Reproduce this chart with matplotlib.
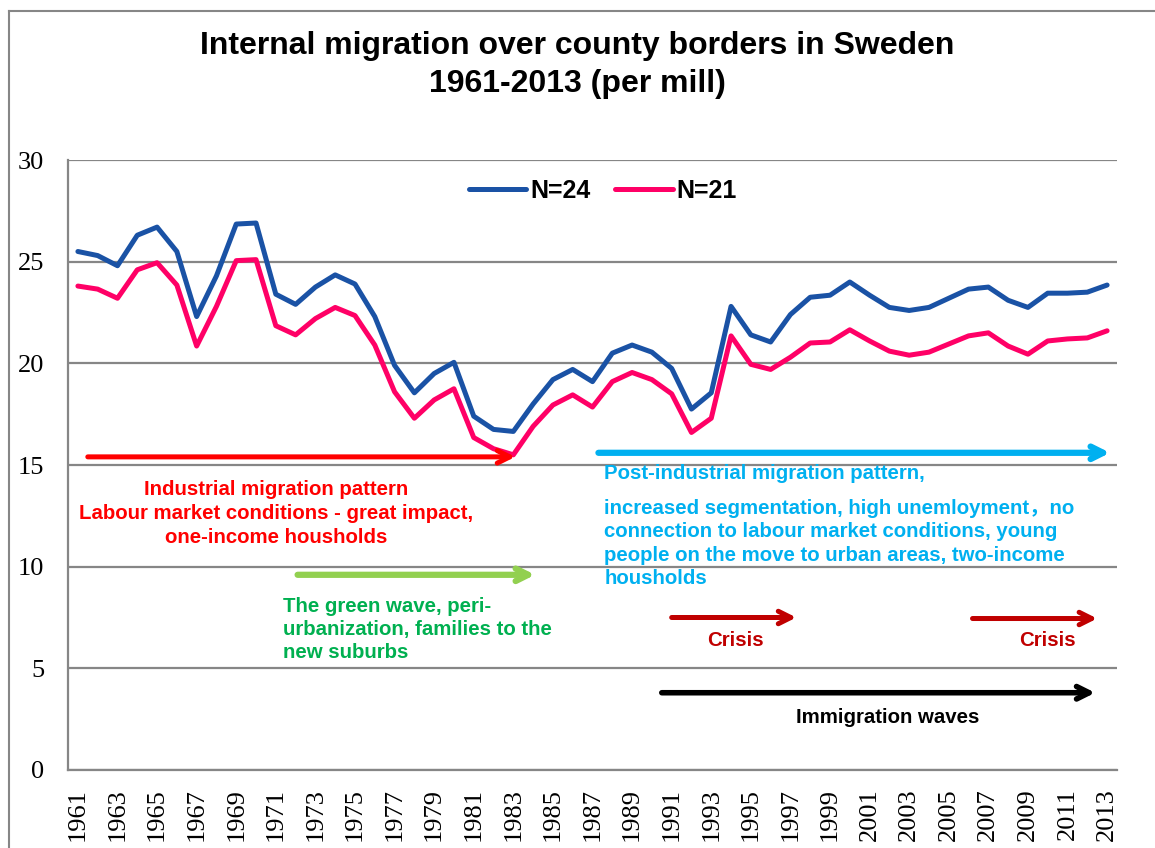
import matplotlib.pyplot as plt
from matplotlib.lines import Line2D
import numpy as np

years = list(range(1961, 2014))
n24 = [25.5, 25.3, 24.8, 26.3, 26.7, 25.5, 22.3, 24.3, 26.85, 26.9,
       23.4, 22.9, 23.75, 24.35, 23.9, 22.3, 19.9, 18.55, 19.5, 20.05,
       17.4, 16.75, 16.65, 18.0, 19.2, 19.7, 19.1, 20.5, 20.9, 20.55,
       19.75, 17.75, 18.55, 22.8, 21.4, 21.05, 22.4, 23.25, 23.35, 24.0,
       23.35, 22.75, 22.6, 22.75, 23.2, 23.65, 23.75, 23.1, 22.75, 23.45,
       23.45, 23.5, 23.85]
n21 = [23.8, 23.65, 23.2, 24.6, 24.95, 23.85, 20.85, 22.8, 25.05, 25.1,
       21.85, 21.4, 22.2, 22.75, 22.35, 20.9, 18.6, 17.3, 18.2, 18.75,
       16.35, 15.8, 15.5, 16.9, 17.95, 18.45, 17.85, 19.1, 19.55, 19.2,
       18.5, 16.6, 17.3, 21.35, 19.95, 19.7, 20.3, 21.0, 21.05, 21.65,
       21.1, 20.6, 20.4, 20.55, 20.95, 21.35, 21.5, 20.85, 20.45, 21.1,
       21.2, 21.25, 21.6]
year_labels = [str(y) if (y - 1961) % 2 == 0 else "" for y in years]

sans = ['Liberation Sans', 'Noto Sans CJK SC', 'DejaVu Sans']

fig = plt.figure(figsize=(11.55, 8.48), dpi=100)
ax = fig.add_axes([68/1155, 1-770/848, (1117-68)/1155, (770-160)/848])

x = np.arange(len(years))
ax.plot(x, n24, color='#1A52A5', lw=3.6, label='N=24', solid_capstyle='round')
ax.plot(x, n21, color='#FF0066', lw=3.6, label='N=21', solid_capstyle='round')

ax.set_xlim(-0.5, len(years) - 0.5)
ax.set_ylim(0, 30)
ax.set_yticks(range(0, 31, 5))
ax.yaxis.grid(True, color='#868686', lw=1.6)
ax.set_axisbelow(True)
ax.set_xticks(x)
ax.set_xticklabels(year_labels, rotation=90, family='Liberation Serif', fontsize=19)
for lbl in ax.get_yticklabels():
    lbl.set_family('Liberation Serif')
    lbl.set_fontsize(19)
ax.tick_params(length=0)
ax.tick_params(axis='y', pad=17)
ax.tick_params(axis='x', pad=13)
for s in ['top', 'right']:
    ax.spines[s].set_visible(False)
for s in ['left', 'bottom']:
    ax.spines[s].set_color('#868686')
    ax.spines[s].set_linewidth(1.6)

leg = ax.legend(loc='center', bbox_to_anchor=(603/1155, 1-191/848), bbox_transform=fig.transFigure,
                ncol=2, frameon=False, handlelength=2.3, columnspacing=1.0, handletextpad=0.15,
                prop={'family': sans, 'weight': 'bold', 'size': 18})

fig.text(0.5, 1-46/848, "Internal migration over county borders in Sweden",
         ha='center', va='center', fontsize=23, fontweight='bold', family=sans)
fig.text(0.5, 1-84/848, "1961-2013 (per mill)",
         ha='center', va='center', fontsize=23, fontweight='bold', family=sans)

# outer chart frame
fig.add_artist(Line2D([9/1155, 9/1155], [0, 1-11/848], color='#868686', lw=1.5))
fig.add_artist(Line2D([9/1155, 1], [1-11/848, 1-11/848], color='#868686', lw=1.5))


def arrow(x0, x1, y, color, lw):
    ax.annotate('', xy=(x1, y), xytext=(x0, y),
                arrowprops=dict(arrowstyle='->,head_length=0.9,head_width=0.45',
                                color=color, lw=lw, shrinkA=0, shrinkB=0))


arrow(0.5, 22.1, 15.4, '#FF0000', 3.6)
arrow(11.1, 23.1, 9.6, '#92D050', 4.5)
arrow(26.3, 52.15, 15.6, '#00B0F0', 4.5)
arrow(30.0, 36.3, 7.5, '#C00000', 3.6)
arrow(45.2, 51.5, 7.45, '#C00000', 3.6)
arrow(29.5, 51.4, 3.8, '#000000', 4.0)

fs = 14.7
ax.text(10.0, 12.62, "Industrial migration pattern\nLabour market conditions - great impact,\none-income housholds",
        ha='center', va='center', multialignment='center', color='#FF0000', fontsize=fs,
        fontweight='bold', family=sans, linespacing=1.32)
ax.text(10.35, 6.9, "The green wave, peri-\nurbanization, families to the\nnew suburbs",
        ha='left', va='center', color='#00B050', fontsize=fs, fontweight='bold', family=sans, linespacing=1.28)
ax.text(26.6, 14.6, "Post-industrial migration pattern,",
        ha='left', va='center', color='#00B0F0', fontsize=fs, fontweight='bold', family=sans)
ax.text(26.6, 11.15, "increased segmentation, high unemloyment\uff0cno\nconnection to labour market conditions, young\npeople on the move to urban areas, two-income\nhousholds",
        ha='left', va='center', color='#00B0F0', fontsize=fs, fontweight='bold', family=sans, linespacing=1.3)
ax.text(33.2, 6.35, "Crisis", ha='center', va='center', color='#C00000', fontsize=fs,
        fontweight='bold', family=sans)
ax.text(49.0, 6.35, "Crisis", ha='center', va='center', color='#C00000', fontsize=fs,
        fontweight='bold', family=sans)
ax.text(40.9, 2.56, "Immigration waves", ha='center', va='center', color='#000000', fontsize=fs,
        fontweight='bold', family=sans)

fig.savefig('out.png', dpi=100)
